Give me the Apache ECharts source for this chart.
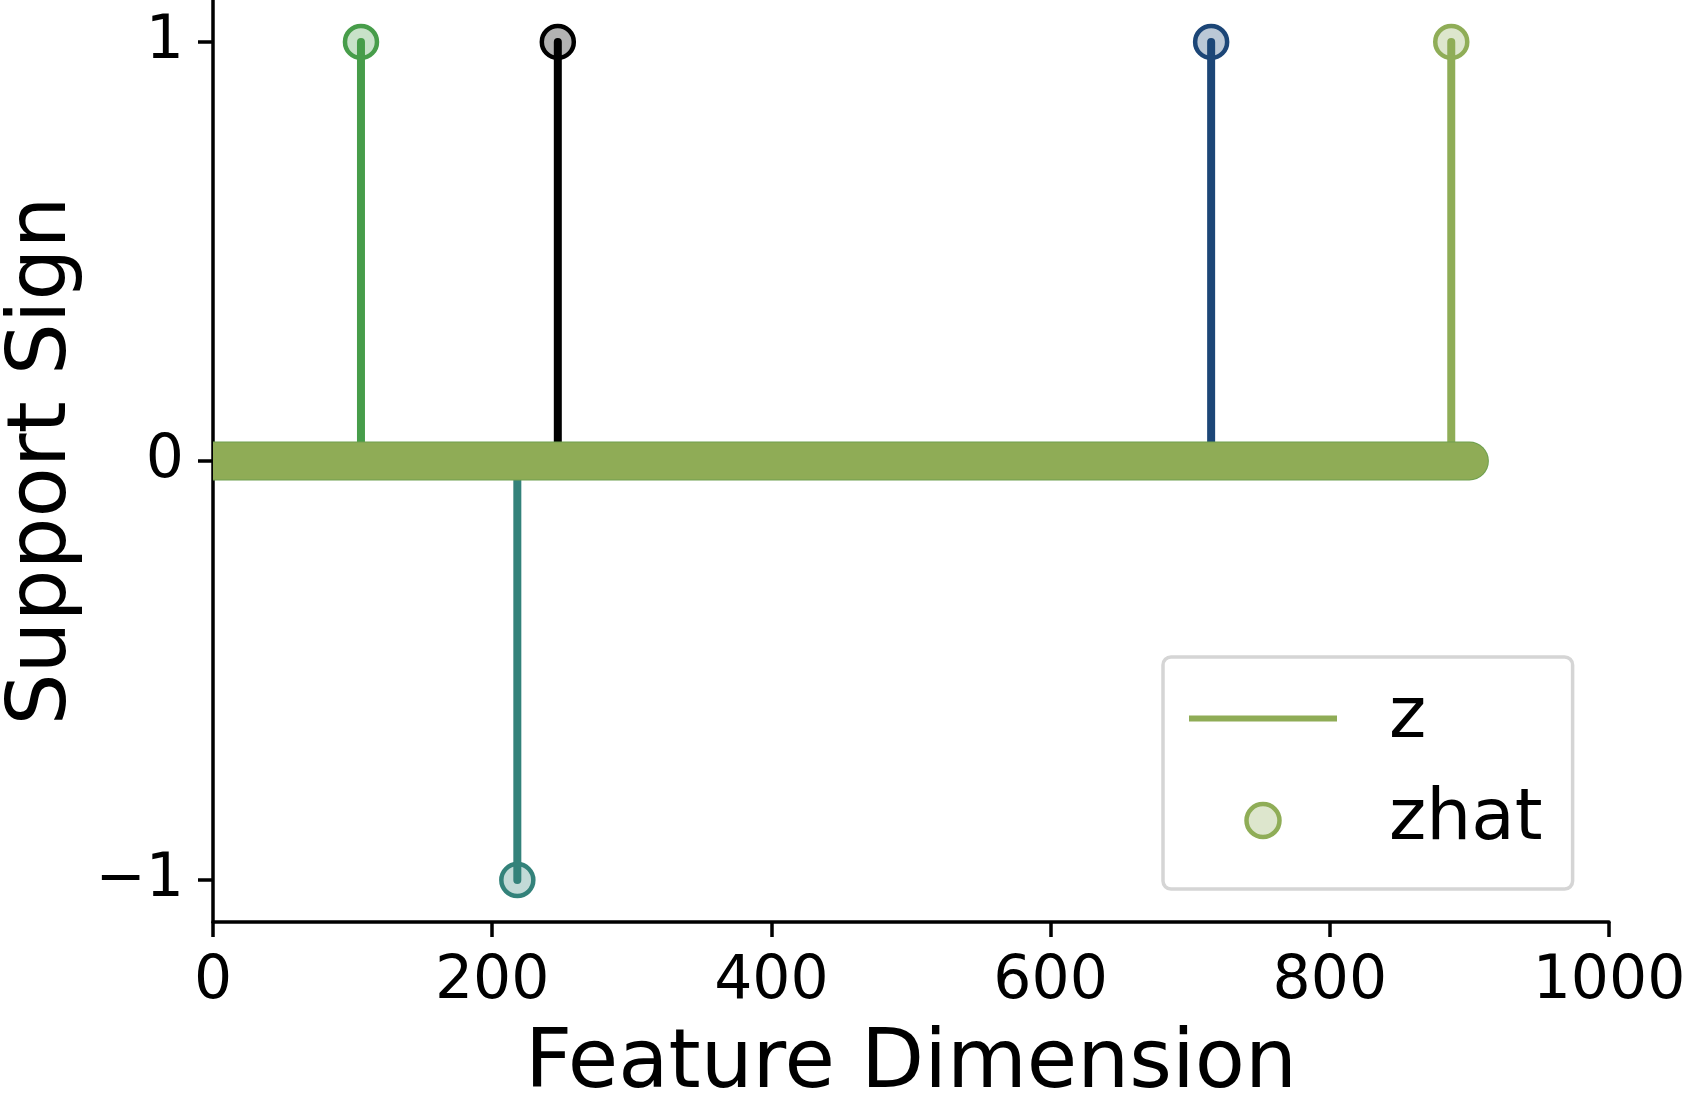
<!DOCTYPE html>
<html><head><meta charset="utf-8">
<script src="https://cdn.jsdelivr.net/npm/echarts@6/dist/echarts.min.js"></script>
<style>html,body{margin:0;padding:0;background:#fff}#c{width:1682px;height:1107px}</style>
</head><body><div id="c"></div>
<script>
// ---- data ----
const featureIndex = [106, 218, 247, 715, 887];
const supportSign = [1, -1, 1, 1, 1];
const baselineRange = [0, 900];
const baselineValue = 0;
const xTicks = [0, 200, 400, 600, 800, 1000];
const yTicks = [-1, 0, 1];
const seriesNames = ['z', 'zhat'];
// ---- styles ----
const stemColors = ['#479d4a', '#33827a', '#000000', '#1c4677', '#8fad57'];
const zColor = '#8fac56';
const zEdge = '#6e9f4e';
const FONT = 'DejaVu Sans';

function light(hex, a) {
  const r = parseInt(hex.slice(1, 3), 16), g = parseInt(hex.slice(3, 5), 16), b = parseInt(hex.slice(5, 7), 16);
  const m = c => Math.round(c * a + 255 * (1 - a));
  return 'rgb(' + m(r) + ',' + m(g) + ',' + m(b) + ')';
}
const fmt = v => (v < 0 ? '\u2212' + Math.abs(v) : String(v));

const stemData = featureIndex.map((x, i) => [x, supportSign[i]]);
const markerData = featureIndex.map((x, i) => ({
  value: [x, supportSign[i]],
  itemStyle: { color: light(stemColors[i], 0.3), borderColor: stemColors[i], borderWidth: 4.5, opacity: 1 }
}));
const baselineData = [[baselineRange[0], baselineRange[1], baselineValue]];

const chart = echarts.init(document.getElementById('c'), null, { renderer: 'canvas' });
chart.setOption({
  animation: false,
  backgroundColor: '#fff',
  grid: { left: 213, right: 73, top: 0, bottom: 185, containLabel: false, outerBoundsMode: 'none' },
  xAxis: {
    type: 'value', min: xTicks[0], max: xTicks[xTicks.length - 1], interval: 200,
    name: 'Feature Dimension', nameLocation: 'middle', nameGap: 103,
    nameTextStyle: { fontFamily: FONT, fontSize: 82, color: '#000' },
    axisLine: { show: true, onZero: false, lineStyle: { color: '#000', width: 3.5 } },
    axisTick: { show: true, length: 15, lineStyle: { color: '#000', width: 3.5 } },
    axisLabel: { fontFamily: FONT, fontSize: 60, color: '#000', margin: 30, formatter: fmt,
                 customValues: xTicks },
    splitLine: { show: false }
  },
  yAxis: {
    type: 'value', min: -1.1, max: 1.1,
    name: 'Support Sign', nameLocation: 'middle', nameGap: 117,
    nameTextStyle: { fontFamily: FONT, fontSize: 82, color: '#000' },
    axisLine: { show: true, onZero: false, lineStyle: { color: '#000', width: 3.5 } },
    axisTick: { show: true, length: 15, lineStyle: { color: '#000', width: 3.5 }, customValues: yTicks },
    axisLabel: { fontFamily: FONT, fontSize: 60, color: '#000', margin: 29, formatter: fmt, customValues: yTicks },
    splitLine: { show: false }
  },
  legend: {
    orient: 'vertical', left: 1163, top: 657,
    padding: [26, 30, 33, 26],
    itemWidth: 148, itemHeight: 33, itemGap: 31,
    selectedMode: false,
    backgroundColor: '#fff', borderColor: '#d5d5d5', borderWidth: 3.5, borderRadius: 8,
    textStyle: { fontFamily: FONT, fontSize: 71, color: '#000', padding: [0, 0, 0, 47] },
    data: [
      { name: seriesNames[0], icon: 'path://M0,0H148V6H0Z', itemStyle: { color: zColor, borderWidth: 0 } },
      { name: seriesNames[1], icon: 'circle', itemStyle: { color: light('#8fad57', 0.3), borderColor: '#8fad57', borderWidth: 4.5, opacity: 1 } }
    ]
  },
  series: [
    {
      name: seriesNames[1], type: 'scatter', z: 2, symbol: 'circle', symbolSize: 32,
      itemStyle: { opacity: 1 },
      data: markerData, silent: true
    },
    {
      name: 'stems', type: 'custom', z: 3, silent: true, clip: true,
      data: stemData,
      renderItem: function (params, api) {
        const p0 = api.coord([api.value(0), 0]);
        const p1 = api.coord([api.value(0), api.value(1)]);
        return {
          type: 'line',
          shape: { x1: p0[0], y1: p0[1], x2: p1[0], y2: p1[1] },
          style: { stroke: stemColors[params.dataIndex], lineWidth: 8, lineCap: 'round' }
        };
      }
    },
    {
      name: seriesNames[0], type: 'custom', z: 4, silent: true, clip: true,
      encode: { x: [0, 1], y: 2 },
      data: baselineData,
      itemStyle: { color: zColor },
      renderItem: function (params, api) {
        const p0 = api.coord([api.value(0), api.value(2)]);
        const p1 = api.coord([api.value(1), api.value(2)]);
        const shape = { x1: p0[0], y1: p0[1], x2: p1[0], y2: p1[1] };
        return {
          type: 'group',
          children: [
            { type: 'line', shape: shape, style: { stroke: zEdge, lineWidth: 39, lineCap: 'round' } },
            { type: 'line', shape: shape, style: { stroke: zColor, lineWidth: 37, lineCap: 'round' } }
          ]
        };
      }
    }
  ]
});
</script></body></html>
